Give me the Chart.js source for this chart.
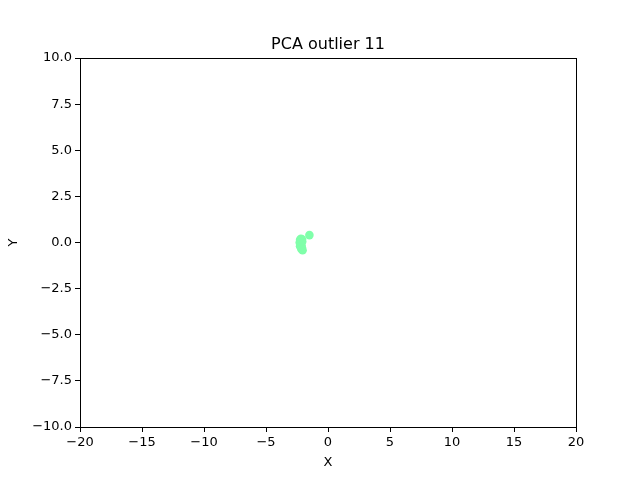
<!DOCTYPE html>
<html>
<head>
<meta charset="utf-8">
<script src="https://cdn.jsdelivr.net/npm/chart.js@4/dist/chart.umd.min.js"></script>
<style>
  body { margin: 0; background: #fff; }
  #chart { display: block; }
</style>
</head>
<body>
<canvas id="chart" width="640" height="480"></canvas>
<script>
// Chart data
const chartTitle = 'PCA outlier 11';
const xValues = [-2.25, -2.18, -2.1, -2.28, -2.2, -2.14, -2.25, -2.1, -2.05, -2.15, -2.08, -1.5];
const yValues = [0.15, 0.2, 0.18, 0.0, -0.05, -0.15, -0.2, -0.3, -0.42, -0.35, 0.05, 0.4];
const xTicks = [-20, -15, -10, -5, 0, 5, 10, 15, 20];
const yTicks = [-10, -7.5, -5, -2.5, 0, 2.5, 5, 7.5, 10];
const pointColor = '#80ffaa';

const points = xValues.map((x, i) => ({ x: x, y: yValues[i] }));

// Format numbers the way matplotlib does (unicode minus)
function fmt(v, digits) {
    const s = Math.abs(v).toFixed(digits);
    return v < 0 ? '\u2212' + s : s;
}

// Draws the frame round the plot and the title
const framePlugin = {
    id: 'frame',
    afterDraw(chart) {
        const a = chart.chartArea;
        const ctx = chart.ctx;
        ctx.save();
        ctx.strokeStyle = '#000';
        ctx.lineWidth = 1;
        ctx.strokeRect(a.left + 0.5, a.top + 0.5, a.right - a.left, a.bottom - a.top);
        ctx.fillStyle = '#000';
        ctx.font = '16px "DejaVu Sans"';
        ctx.textAlign = 'center';
        ctx.textBaseline = 'alphabetic';
        ctx.fillText(chartTitle, (a.left + a.right) / 2, a.top - 9);
        ctx.restore();
    }
};

const tickFont = { family: 'DejaVu Sans', size: 13 };

new Chart(document.getElementById('chart'), {
    type: 'scatter',
    data: {
        datasets: [{
            data: points,
            backgroundColor: pointColor,
            borderColor: pointColor,
            pointRadius: 4.3,
            pointHoverRadius: 4.3,
            borderWidth: 0
        }]
    },
    options: {
        responsive: false,
        animation: false,
        devicePixelRatio: 1,
        layout: { padding: { top: 58, right: 64, left: 0, bottom: 0 } },
        plugins: {
            legend: { display: false },
            title: { display: false },
            tooltip: { enabled: false }
        },
        scales: {
            x: {
                type: 'linear',
                min: -20,
                max: 20,
                afterBuildTicks: axis => { axis.ticks = xTicks.map(v => ({ value: v })); },
                afterFit: axis => { axis.height = 53; },
                grid: { drawOnChartArea: false, tickLength: 5, color: '#000', tickColor: '#000' },
                border: { display: false },
                ticks: { color: '#000', font: tickFont, padding: 3, maxRotation: 0, callback: v => fmt(v, 0) },
                title: { display: true, text: 'X', color: '#000', font: tickFont, padding: { top: 0, bottom: 10 } }
            },
            y: {
                type: 'linear',
                min: -10,
                max: 10,
                afterBuildTicks: axis => { axis.ticks = yTicks.map(v => ({ value: v })); },
                afterFit: axis => { axis.width = 80; },
                grid: { drawOnChartArea: false, tickLength: 5, color: '#000', tickColor: '#000' },
                border: { display: false },
                ticks: { color: '#000', font: tickFont, padding: 3, callback: v => fmt(v, 1) },
                title: { display: true, text: 'Y', color: '#000', font: tickFont, padding: { top: 6, bottom: 0 } }
            }
        }
    },
    plugins: [framePlugin]
});
</script>
</body>
</html>
